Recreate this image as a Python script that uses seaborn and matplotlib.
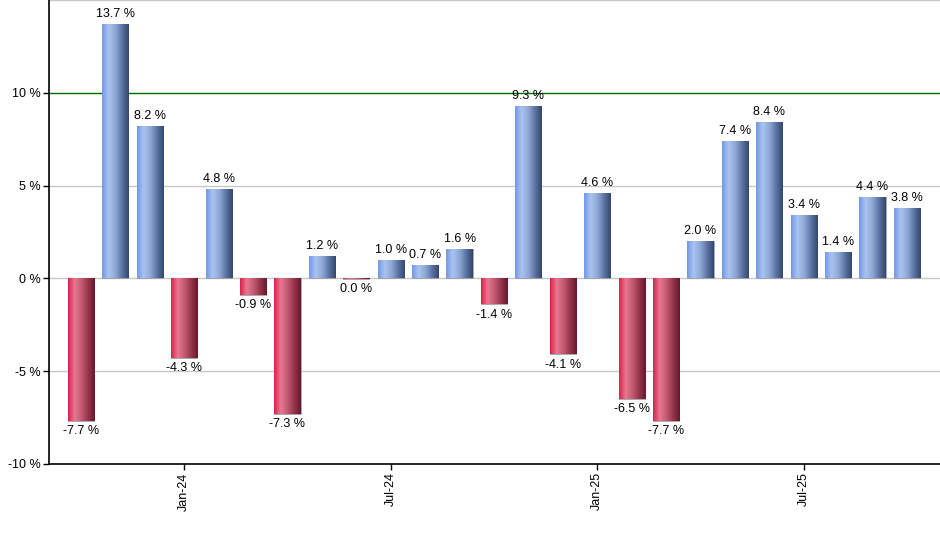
import numpy as np
import pandas as pd
import matplotlib
matplotlib.use("Agg")
import matplotlib.pyplot as plt
from matplotlib.colors import LinearSegmentedColormap
import seaborn as sns

# ==================================================
# DATA
# ==================================================

months = ["Oct-23", "Nov-23", "Dec-23", "Jan-24", "Feb-24", "Mar-24", "Apr-24",
          "May-24", "Jun-24", "Jul-24", "Aug-24", "Sep-24", "Oct-24", "Nov-24",
          "Dec-24", "Jan-25", "Feb-25", "Mar-25", "Apr-25", "May-25", "Jun-25",
          "Jul-25", "Aug-25", "Sep-25", "Oct-25"]
returns = [-7.7, 13.7, 8.2, -4.3, 4.8, -0.9, -7.3, 1.2, -0.03, 1.0, 0.7, 1.6,
           -1.4, 9.3, -4.1, 4.6, -6.5, -7.7, 2.0, 7.4, 8.4, 3.4, 1.4, 4.4, 3.8]
tick_labels = ["Jan-24", "Jul-24", "Jan-25", "Jul-25"]

df = pd.DataFrame({"month": months, "ret": returns})
df["sign"] = np.where(df["ret"] >= 0, "up", "down")

# ==================================================
# STYLE
# ==================================================

sns.set_style("white")
plt.rcParams["font.family"] = ["Liberation Sans", "DejaVu Sans"]
plt.rcParams["font.size"] = 9
plt.rcParams["text.color"] = "black"
plt.rcParams["xtick.color"] = "black"
plt.rcParams["ytick.color"] = "black"

blue_cmap = LinearSegmentedColormap.from_list(
    "blue", ["#7298e6", "#a9c3f1", "#8ea8d6", "#5a73a3", "#33466b"])
red_cmap = LinearSegmentedColormap.from_list(
    "red", ["#d9204a", "#e87891", "#c25a72", "#96344b", "#65192a"])

fig = plt.figure(figsize=(9.4, 5.5), dpi=100)
ax = fig.add_axes([49 / 940, 1 - 464 / 550, 1 - 49 / 940, 464 / 550])

sns.barplot(data=df, x="month", y="ret", hue="sign",
            palette={"up": "#7298e6", "down": "#d9204a"},
            dodge=False, width=0.76, legend=False, ax=ax, zorder=3)

# gradient fill on every bar
grad = np.linspace(0, 1, 256).reshape(1, -1)
for patch in ax.patches:
    h = patch.get_height()
    if np.isnan(h):
        continue
    x0 = patch.get_x()
    w = patch.get_width()
    y0 = patch.get_y()
    cmap = blue_cmap if y0 + h > 0 else red_cmap
    patch.set_facecolor("none")
    patch.set_edgecolor("#9a9a9a")
    patch.set_linewidth(0.6)
    im = ax.imshow(grad, cmap=cmap, aspect="auto",
                   extent=(x0, x0 + w, y0, y0 + h), zorder=3)
    im.set_clip_path(patch)

# value labels
for i, v in enumerate(returns):
    txt = "0.0 %" if abs(v) < 0.05 else f"{v:.1f} %"
    if v >= 0:
        ax.annotate(txt, (i, v), xytext=(0, 3), textcoords="offset points",
                    ha="center", va="bottom", fontsize=9, zorder=5)
    else:
        ax.annotate(txt, (i, v), xytext=(0, -3), textcoords="offset points",
                    ha="center", va="top", fontsize=9, zorder=5)

# ==================================================
# AXES
# ==================================================

ax.set_xlim(-0.93, 24.96)
ax.set_ylim(-10, 15)

for y in [15, 5, 0, -5]:
    ax.axhline(y, color="#c8c8c8", lw=1, zorder=1)
ax.axhline(10, color="#006e00", lw=1, zorder=1)

ax.set_yticks([-10, -5, 0, 5, 10])
ax.set_yticklabels([f"{t} %" for t in [-10, -5, 0, 5, 10]])
tick_pos = [months.index(m) for m in tick_labels]
ax.set_xticks(tick_pos)
ax.set_xticklabels(tick_labels, rotation=90)
ax.tick_params(axis="both", which="both", length=4, width=1, color="black",
               direction="out", labelsize=9, pad=2)
ax.tick_params(axis="x", bottom=True)
ax.tick_params(axis="y", left=True)

ax.set_xlabel("")
ax.set_ylabel("")
for side in ["top", "right"]:
    ax.spines[side].set_visible(False)
ax.spines["left"].set_color("black")
ax.spines["bottom"].set_color("black")
ax.spines["left"].set_linewidth(1.2)
ax.spines["bottom"].set_linewidth(1.2)

fig.savefig("out.png", dpi=100)
